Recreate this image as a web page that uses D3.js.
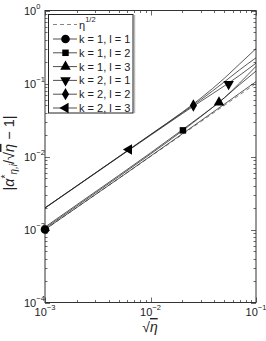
<!DOCTYPE html>
<html><head><meta charset="utf-8">
<script src="https://cdn.jsdelivr.net/npm/d3@7"></script>
<style>body{margin:0;background:#fff}svg{display:block}text{font-family:"Liberation Sans",Arial,sans-serif;fill:#222}</style>
</head><body><svg id="c" width="266" height="341"></svg>
<script>
// ---- data ----
const xs = [0.001, 0.002, 0.005, 0.01, 0.02, 0.03, 0.05, 0.07, 0.1];
const refX = [0.001, 0.01, 0.1];
const refY = [0.001, 0.01, 0.1];           // eta^{1/2}
const k1l1 = [0.00100, 0.00200, 0.00500, 0.0101, 0.0204, 0.0309, 0.0520, 0.0735, 0.106];
const k1l2 = [0.00104, 0.00210, 0.00530, 0.0108, 0.0224, 0.0351, 0.0635, 0.0966, 0.148];
const k1l3 = [0.00108, 0.00218, 0.00550, 0.0112, 0.0232, 0.0357, 0.0635, 0.1015, 0.172];
const k2l1 = [0.00196, 0.00392, 0.00980, 0.0195, 0.0386, 0.0570, 0.0925, 0.1295, 0.190];
const k2l2 = [0.00198, 0.00396, 0.00990, 0.0198, 0.0396, 0.0600, 0.1050, 0.1540, 0.225];
const k2l3 = [0.00198, 0.00396, 0.00995, 0.0200, 0.0404, 0.0630, 0.1175, 0.1855, 0.300];
const seriesNames = ["k = 1, l = 1","k = 1, l = 2","k = 1, l = 3","k = 2, l = 1","k = 2, l = 2","k = 2, l = 3"];
const seriesValues = [k1l1, k1l2, k1l3, k2l1, k2l2, k2l3];
const markerX = [0.001, 0.0203, 0.0446, 0.055, 0.0255, 0.00625];
const markerY = [0.001, 0.0228, 0.055, 0.098, 0.050, 0.0125];
const markerShape = ["circle","square","triUp","triDown","diamond","triLeft"];
const xMajor = [1e-3, 1e-2, 1e-1];
const xMajorExp = ["−3","−2","−1"];
const yMajor = [1e-4, 1e-3, 1e-2, 1e-1, 1e0];
const yMajorExp = ["−4","−3","−2","−1","0"];

// ---- layout ----
const L = 45, R = 256, T = 10.5, B = 302.5;
const svg = d3.select("#c");
const x = d3.scaleLog().domain([1e-3, 1e-1]).range([L, R]);
const y = d3.scaleLog().domain([1e-4, 1e0]).range([B, T]);
const ink = "#222";

// ticks (inward, all four sides)
const g = svg.append("g").attr("stroke", "#444").attr("stroke-width", 0.8);
x.ticks().forEach(v => {
  const major = xMajor.some(m => Math.abs(m - v) / m < 1e-6);
  const len = major ? 5 : 2.5, px = Math.round(x(v)) + 0.5;
  g.append("line").attr("x1", px).attr("x2", px).attr("y1", B).attr("y2", B - len);
  g.append("line").attr("x1", px).attr("x2", px).attr("y1", T).attr("y2", T + len);
});
y.ticks().forEach(v => {
  const major = yMajor.some(m => Math.abs(m - v) / m < 1e-6);
  const len = major ? 5 : 2.5, py = Math.round(y(v)) + 0.5;
  g.append("line").attr("y1", py).attr("y2", py).attr("x1", L).attr("x2", L + len);
  g.append("line").attr("y1", py).attr("y2", py).attr("x1", R).attr("x2", R - len);
});

// frame
svg.append("rect").attr("x", L).attr("y", T).attr("width", R - L).attr("height", B - T)
  .attr("fill", "none").attr("stroke", "#333").attr("stroke-width", 1);

// tick labels
xMajor.forEach((v, i) => {
  const t = svg.append("text").attr("x", x(v)).attr("y", 316).attr("text-anchor", "middle").attr("font-size", 11);
  t.append("tspan").text("10");
  t.append("tspan").attr("dy", -6).attr("font-size", 7.5).text(xMajorExp[i]);
});
yMajor.forEach((v, i) => {
  const t = svg.append("text").attr("x", 24).attr("y", y(v) + 4.5).attr("font-size", 11);
  t.append("tspan").text("10");
  t.append("tspan").attr("dy", -6).attr("font-size", 7.5).text(yMajorExp[i]);
});

// data lines
const line = d3.line().x(d => x(d[0])).y(d => y(d[1])).curve(d3.curveMonotoneX);
const plot = svg.append("g");
plot.append("path").datum(refX.map((v, i) => [v, refY[i]])).attr("d", line)
  .attr("fill", "none").attr("stroke", "#666").attr("stroke-width", 0.8).attr("stroke-dasharray", "4,3");
seriesValues.forEach(vals => {
  plot.append("path").datum(xs.map((v, i) => [v, vals[i]])).attr("d", line)
    .attr("fill", "none").attr("stroke", ink).attr("stroke-width", 0.75);
});

function marker(sel, shape, cx, cy) {
  let type = d3.symbolTriangle, size = 48, rot = 0;
  if (shape === "circle") { type = d3.symbolCircle; size = 58; }
  if (shape === "square") { type = d3.symbolSquare; size = 42; }
  if (shape === "diamond") { type = d3.symbolDiamond; size = 44; }
  if (shape === "triDown") rot = 180;
  if (shape === "triLeft") rot = -90;
  sel.append("path").attr("d", d3.symbol().type(type).size(size)())
    .attr("transform", `translate(${cx},${cy}) rotate(${rot})`).attr("fill", "#000");
}
markerX.forEach((v, i) => marker(plot, markerShape[i], x(v), y(markerY[i])));

// legend
const lg = svg.append("g");
lg.append("line").attr("x1", 134.5).attr("x2", 134.5).attr("y1", 15).attr("y2", 113).attr("stroke", "#bbb").attr("stroke-width", 1.5);
lg.append("rect").attr("x", 48.5).attr("y", 14.5).attr("width", 84.5).attr("height", 98.5)
  .attr("fill", "#fff").attr("stroke", "#222").attr("stroke-width", 1);
lg.append("line").attr("x1", 53).attr("x2", 77).attr("y1", 24.5).attr("y2", 24.5)
  .attr("stroke", "#666").attr("stroke-width", 0.8).attr("stroke-dasharray", "4,3");
const t0 = lg.append("text").attr("x", 79).attr("y", 29).attr("font-size", 11);
t0.append("tspan").text("η");
t0.append("tspan").attr("dy", -7).attr("font-size", 7.5).text("1/2");
seriesNames.forEach((nm, i) => {
  const yy = 39 + i * 13.8;
  lg.append("line").attr("x1", 53).attr("x2", 77).attr("y1", yy).attr("y2", yy).attr("stroke", ink).attr("stroke-width", 0.8);
  marker(lg, markerShape[i], 65.5, yy);
  lg.append("text").attr("x", 79).attr("y", yy + 4).attr("font-size", 11).text(nm);
});

// axis titles
const xt = svg.append("text").attr("x", 150).attr("y", 332).attr("text-anchor", "middle").attr("font-size", 14);
xt.append("tspan").text("√");
xt.append("tspan").attr("font-style", "italic").attr("text-decoration", "overline").text("η");

const yt = svg.append("text").attr("transform", "translate(14,153) rotate(-90)").attr("text-anchor", "middle").attr("font-size", 14.5);
yt.append("tspan").text("|");
yt.append("tspan").attr("font-style", "italic").text("α");
yt.append("tspan").attr("dy", -5).attr("font-size", 10).text("*");
yt.append("tspan").attr("dy", 8).attr("font-size", 10).attr("font-style", "italic").text("η,i");
yt.append("tspan").attr("dy", -3).text("/√");
yt.append("tspan").attr("font-style", "italic").attr("text-decoration", "overline").text("η");
yt.append("tspan").text(" − 1|");
</script></body></html>
